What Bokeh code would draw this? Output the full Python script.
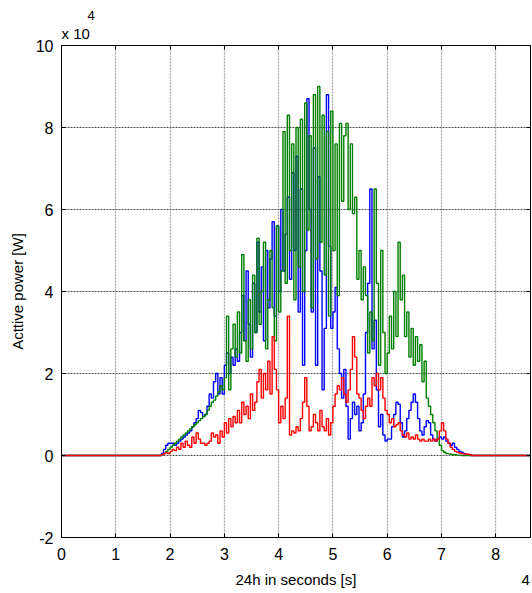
import numpy as np
from bokeh.plotting import figure
from bokeh.models import (Range1d, LinearAxis, FixedTicker, Title,
                          PrintfTickFormatter, CustomJSTickFormatter)
from bokeh.embed import file_html
from bokeh.resources import INLINE

# time axis in units of 1e4 s, power in units of 1e4 W
day_end = 8.64
t_start = 1.80
t_step = 0.04

blue_vals = [
    0, 0.05, 0.15, 0.25, 0.3, 0.3,
    0.3, 0.25, 0.3, 0.35, 0.4, 0.45, 0.5, 0.55, 0.6, 0.7,
    0.8, 0.9, 1.1, 1.05, 0.95, 1.0, 1.2, 1.5, 1.4, 1.8,
    2.0, 1.5, 1.9, 1.5, 2.2, 2.5, 2.0, 2.4, 2.2, 2.6,
    2.3, 3.0, 3.9, 2.8, 4.5, 3.2, 2.4, 4.2, 3.0, 5.2,
    3.5, 4.6, 2.8, 5.0, 3.6, 4.8, 5.7, 3.4, 5.6, 4.0,
    6.0, 4.5, 5.4, 6.3, 4.3, 6.9, 5.0, 7.3, 3.5, 6.5,
    2.2, 5.0, 8.7, 6.0, 3.5, 7.5, 2.2, 6.8, 4.5, 1.6,
    3.1, 8.8, 5.1, 3.1,
    3.5, 4.1, 2.6, 2.0, 1.4, 2.1, 1.2, 0.4, 0.9, 1.3, 1.0, 1.2, 0.6, 0.8, 1.5, 3.0,
    4.2, 6.5, 2.6, 3.3, 1.6, 0.7, 1.0, 0.5, 0.35, 0.4,
    0.4, 0.7, 1.0, 1.3, 1.25, 0.8, 0.45, 0.6, 0.9, 1.1,
    1.3, 1.5, 1.3, 0.9, 0.6, 0.5, 0.7, 0.85, 0.8, 0.5,
    0.4, 0.35, 0.4, 0.45, 0.4, 0.45, 0.35, 0.3, 0.25, 0.3,
    0.2, 0.15, 0.1, 0.08, 0.05, 0.03, 0.02, 0, 0, 0,
]

green_vals = [
    0, 0.02, 0.05, 0.1, 0.15, 0.2,
    0.25, 0.3, 0.35, 0.4, 0.45, 0.5, 0.55, 0.6, 0.65, 0.7,
    0.75, 0.8, 0.85, 0.9, 0.95, 1.0, 1.1, 1.2, 1.3, 1.35,
    1.45, 1.55, 1.7, 1.6, 1.9, 3.4, 1.6, 2.6, 3.2, 2.4,
    3.5, 2.5, 4.9, 2.8, 2.3, 3.8, 2.6, 4.4, 3.0, 5.3,
    3.2, 4.0, 5.2, 2.6, 3.8, 5.0, 3.6, 2.8, 5.6, 3.5,
    4.5, 7.9, 4.2, 8.3, 5.0, 7.6, 3.8, 8.0, 4.6, 8.2,
    4.0, 8.6, 5.5, 7.8, 3.6, 8.8, 4.8, 9.0, 5.2, 8.3,
    4.4, 7.9, 3.4, 8.4, 5.0, 7.6, 3.9, 8.1, 6.2, 7.8,
    8.1, 6.0, 7.6, 5.9, 6.3, 4.3, 5.0, 3.8, 4.6, 3.9,
    2.5, 3.5, 2.8, 6.5, 4.2,
    2.2, 5.0, 3.0, 2.0, 2.5,
    3.4, 2.6, 4.0, 2.9, 5.2, 3.8, 4.4, 2.9, 3.5, 2.4,
    3.1, 2.2, 2.9, 2.3, 2.7, 1.8, 2.3, 1.4, 1.2, 1.0,
    0.8, 0.6, 0.4, 0.25, 0.12, 0.08, 0.05, 0.04, 0.03, 0.02,
    0.02, 0.01, 0.01, 0, 0, 0, 0, 0, 0, 0,
]

red_vals = [
    0, 0.02, 0.05, 0.07, 0.05, 0.1,
    0.15, 0.12, 0.2, 0.15, 0.3, 0.2, 0.35, 0.25, 0.2, 0.45,
    0.3, 0.55, 0.4, 0.3, 0.3, 0.25, 0.3, 0.35, 0.55, 0.45,
    0.5, 0.3, 0.6, 0.45, 0.8, 0.55, 0.9, 0.7, 0.95, 0.8,
    1.1, 0.8, 1.3, 1.0, 1.2, 0.9, 1.5, 1.1, 1.3, 1.8,
    2.1, 1.4, 2.0, 1.6, 2.3, 1.5, 2.9, 2.1, 1.6, 0.8,
    1.2, 0.9, 1.4, 3.4, 0.5, 0.6, 0.55, 0.7, 0.6, 0.9,
    1.3, 1.9, 1.2, 0.6, 0.7, 1.0, 0.8, 0.6, 1.1, 0.7,
    0.6, 0.9, 0.5, 0.8,
    1.2, 1.5, 1.7, 1.6, 1.9, 1.5, 1.3, 1.6, 2.1, 2.9, 2.4, 1.5, 1.4, 1.1, 0.9, 1.2,
    1.4, 1.2, 1.9, 1.7, 2.0, 1.6, 1.9, 1.4, 1.1, 1.0,
    0.8, 0.9, 0.7, 0.75, 0.8, 0.6, 0.5, 0.45, 0.55, 0.4,
    0.45, 0.4, 0.5, 0.4, 0.35, 0.4, 0.35, 0.35, 0.4, 0.35,
    0.4, 0.35, 0.4, 0.6, 0.8, 0.6, 0.4, 0.3, 0.2, 0.15,
    0.1, 0.08, 0.06, 0.05, 0.04, 0.03, 0.03, 0.02, 0, 0,
]

x_ticks = [0, 1, 2, 3, 4, 5, 6, 7, 8]
y_ticks = [-2, 0, 2, 4, 6, 8, 10]
x_label = "24h in seconds [s]"
y_label = "Acttive power [W]"
exp_base = "x 10"
exp_power = "4"

FONT = "Liberation Sans"

t = t_start + t_step * np.arange(len(blue_vals))
x = np.concatenate([[0.0], t, [day_end]])


def pad(v):
    return np.concatenate([[0.0], np.asarray(v, dtype=float), [0.0]])


p = figure(width=532, height=593, output_backend="svg", toolbar_location=None,
           x_range=Range1d(0, day_end), y_range=Range1d(-2, 10),
           min_border_left=61, min_border_right=2, min_border_top=45,
           min_border_bottom=56)
p.background_fill_color = "white"
p.border_fill_color = "white"
p.outline_line_color = "black"
p.outline_line_width = 1

p.step(x, pad(blue_vals), mode="after", line_color="#0000FF", line_width=1.4)
p.step(x, pad(green_vals), mode="after", line_color="#008000", line_width=1.4)
p.step(x, pad(red_vals), mode="after", line_color="#FF0000", line_width=1.4)

xt = FixedTicker(ticks=x_ticks)
yt = FixedTicker(ticks=y_ticks)

for ax in (p.xaxis[0], p.yaxis[0]):
    ax.axis_line_color = "black"
    ax.major_tick_in = 4
    ax.major_tick_out = 0
    ax.minor_tick_in = 0
    ax.minor_tick_out = 0
    ax.major_tick_line_color = "black"
    ax.major_label_text_font = FONT
    ax.major_label_text_font_size = "16px"
    ax.major_label_text_color = "black"
    ax.axis_label_text_font = FONT
    ax.axis_label_text_font_size = "15px"
    ax.axis_label_text_font_style = "normal"
    ax.axis_label_text_color = "black"
    ax.formatter = PrintfTickFormatter(format="%d")

p.xaxis[0].ticker = xt
p.yaxis[0].ticker = yt
p.yaxis[0].axis_label = y_label
p.xaxis[0].major_label_standoff = 10
p.yaxis[0].major_label_standoff = 8
p.yaxis[0].axis_label_standoff = 7

# second row under the x tick labels: axis title (centred) and the x10^4 exponent
label_row = {(0 + day_end) / 2: x_label, 8.55: exp_power}
row_axis = LinearAxis(ticker=FixedTicker(ticks=list(label_row.keys())),
                      major_label_overrides=label_row,
                      major_label_standoff=8, major_tick_in=0, major_tick_out=0,
                      minor_tick_in=0, minor_tick_out=0, axis_line_color=None,
                      major_tick_line_color=None,
                      major_label_text_font=FONT, major_label_text_font_size="15px",
                      major_label_text_color="black")
p.add_layout(row_axis, "below")

for loc, tk in (("above", xt), ("right", yt)):
    ax = LinearAxis(ticker=tk, formatter=CustomJSTickFormatter(code="return ''"),
                    major_label_standoff=0, major_tick_in=4, major_tick_out=0,
                    minor_tick_in=0, minor_tick_out=0, axis_line_color="black",
                    major_tick_line_color="black")
    p.add_layout(ax, loc)

p.xgrid.ticker = xt
p.ygrid.ticker = yt
p.xgrid.grid_line_color = "#a8a8a8"
p.xgrid.grid_line_width = 1.3
p.xgrid.grid_line_dash = "2 1"
p.ygrid.grid_line_color = "#505050"
p.ygrid.grid_line_width = 1
p.ygrid.grid_line_dash = "2 1"

p.add_layout(Title(text=exp_base, align="left", offset=0, standoff=7,
                   text_font=FONT, text_font_size="15px",
                   text_font_style="normal", text_color="black"), "above")
p.add_layout(Title(text=exp_power, align="left", offset=26, standoff=0,
                   text_font=FONT, text_font_size="13px",
                   text_font_style="normal", text_color="black"), "above")

open("out.html", "w").write(file_html(p, INLINE))
